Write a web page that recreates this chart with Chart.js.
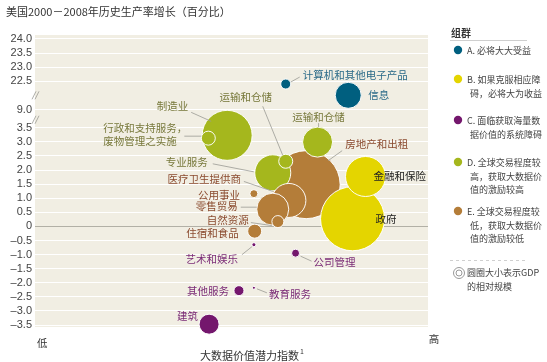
<!DOCTYPE html>
<html>
<head>
<meta charset="utf-8">
<script src="https://cdn.jsdelivr.net/npm/chart.js@4.4.1/dist/chart.umd.min.js"></script>
<style>
html, body { margin: 0; padding: 0; background: #fff; }
#wrap { width: 547px; height: 362px; position: relative; }
</style>
</head>
<body>
<div id="wrap"><canvas id="my-Chart" width="547" height="362"></canvas></div>
<script>
// Dados
const sectors = ['计算机和其他电子产品', '信息', '制造业', '行政和支持服务，|废物管理之实施', '运输和仓储', '运输和仓储',
    '房地产和出租', '专业服务', '医疗卫生提供商', '零售贸易', '自然资源', '公用事业', '住宿和食品',
    '艺术和娱乐', '公司管理', '其他服务', '教育服务', '建筑', '金融和保险', '政府'];
const groups = ['A', 'A', 'D', 'D', 'D', 'D', 'E', 'D', 'E', 'E', 'E', 'E', 'E', 'C', 'C', 'C', 'C', 'C', 'B', 'B'];
const bigDataIndex = [63.8, 79.7, 48.9, 44.1, 63.8, 71.9, 69.0, 60.5, 64.6, 60.5, 61.8, 55.7, 55.9, 55.7, 66.3, 51.9, 55.7, 44.3, 84.1, 80.8];
const productivity = [22.4, 22.0, 3.23, 3.13, 2.31, 2.99, 1.48, 1.9, 0.92, 0.61, 0.17, 1.16, -0.17, -0.65, -0.95, -2.28, -2.18, -3.47, 1.77, 0.27];
const gdpSize = [5, 13, 25, 7, 7, 15, 34, 18, 17, 16, 6, 4, 7, 2, 4, 5, 1.5, 10, 20, 32];
const yTickValues = [-3.5, -3.0, -2.5, -2.0, -1.5, -1.0, -0.5, 0, 0.5, 1.0, 1.5, 2.0, 2.5, 3.0, 3.5, 9.0, 22.5, 23.0, 23.5, 24.0];

const groupNames = {
    A: ['A. 必将大大受益'],
    B: ['B. 如果克服相应障', '碍，必将大为收益'],
    C: ['C. 面临获取海量数', '据价值的系统障碍'],
    D: ['D. 全球交易程度较', '高，获取大数据价', '值的激励较高'],
    E: ['E. 全球交易程度较', '低，获取大数据价', '值的激励较低']
};
const bubbleColors = { A: '#005f7f', B: '#e4d500', C: '#74176d', D: '#a5b71d', E: '#b47d39' };
const textColors = { A: '#2a6a88', B: '#222222', C: '#7a2a76', D: '#77783a', E: '#8a4a2e' };

// Eixo quebrado: valor real -> unidade do eixo
const breakAnchors = [[-3.5, -3.5], [3.5, 3.5], [9.0, 4.146], [22.0, 4.65], [24.0, 6.65]];
function toAxis(v) {
    for (let i = 1; i < breakAnchors.length; i++) {
        const [v0, d0] = breakAnchors[i - 1];
        const [v1, d1] = breakAnchors[i];
        if (v <= v1 || i === breakAnchors.length - 1) {
            return d0 + (v - v0) * (d1 - d0) / (v1 - v0);
        }
    }
}

function fmt(v) {
    if (v === 0) return '0';
    return (v < 0 ? '–' : '') + Math.abs(v).toFixed(1);
}

// Posição dos rótulos em relação ao centro da bolha (dx, dy, alinhamento, linha guia)
const labelLayout = [
    { dx: 17, dy: -9, align: 'left', line: [5, -2, 14, -7] },
    { dx: 20, dy: 0, align: 'left' },
    { dx: -39, dy: -29, align: 'right', line: [-36, -23, -16, -14] },
    { dx: -105, dy: -10, align: 'left', line: [-24, -2, -7, -2] },
    { dx: -40, dy: -64, align: 'center', line: [-23, -55, -3, -6] },
    { dx: 1, dy: -25, align: 'center', line: [1, -19, 1, -15] },
    { dx: 39, dy: -41, align: 'left', line: [36, -34, 22, -24] },
    { dx: -65, dy: -11, align: 'right', line: [-60, -9, -19, -1] },
    { dx: -48, dy: -21, align: 'right', line: [-45, -19, -16, -9] },
    { dx: -35, dy: -3, align: 'right', line: [-32, -2, -16, -2] },
    { dx: -29, dy: -2, align: 'right', line: [-27, 1, -6, 4] },
    { dx: -14, dy: 1, align: 'right' },
    { dx: -16, dy: 2, align: 'right' },
    { dx: -16, dy: 14, align: 'right', line: [-12, 10, -2, 2] },
    { dx: 18, dy: 9, align: 'left', line: [5, 3, 16, 8] },
    { dx: -10, dy: 0, align: 'right' },
    { dx: 15, dy: 6, align: 'left', line: [3, 1, 13, 5] },
    { dx: -11, dy: -8, align: 'right' },
    { dx: 8, dy: 0, align: 'left' },
    { dx: 23, dy: 0, align: 'left' }
];

const CJK = '"Noto Sans CJK SC", sans-serif';

// Ordem de desenho: bolhas maiores primeiro
const order = sectors.map((s, i) => i).sort((a, b) => gdpSize[b] - gdpSize[a]);

const bgPlugin = {
    id: 'bg',
    beforeDraw(chart) {
        const { ctx, chartArea: a } = chart;
        ctx.save();
        ctx.fillStyle = '#f1eee3';
        ctx.fillRect(a.left, a.top, a.right - a.left, a.bottom - a.top);
        ctx.restore();
    }
};

const labelPlugin = {
    id: 'labels',
    afterDatasetsDraw(chart) {
        const { ctx } = chart;
        const meta = chart.getDatasetMeta(0);
        ctx.save();
        ctx.textBaseline = 'middle';
        ctx.font = '10.5px ' + CJK;
        order.forEach((idx, k) => {
            const el = meta.data[k];
            const lay = labelLayout[idx];
            const cx = el.x, cy = el.y;
            if (lay.line) {
                ctx.strokeStyle = '#9a9a94';
                ctx.lineWidth = 0.8;
                ctx.beginPath();
                ctx.moveTo(cx + lay.line[0], cy + lay.line[1]);
                ctx.lineTo(cx + lay.line[2], cy + lay.line[3]);
                ctx.stroke();
            }
            ctx.fillStyle = textColors[groups[idx]];
            ctx.textAlign = lay.align;
            const lines = sectors[idx].split('|');
            lines.forEach((t, j) => ctx.fillText(t, cx + lay.dx, cy + lay.dy + j * 13));
        });
        ctx.restore();
    },
    afterDraw(chart) {
        const { ctx, chartArea: a } = chart;
        ctx.save();
        // título
        ctx.fillStyle = '#333';
        ctx.textBaseline = 'middle';
        ctx.textAlign = 'left';
        ctx.font = '11px ' + CJK;
        ctx.fillText('美国2000－2008年历史生产率增长（百分比）', 6, 12);

        // marcas de quebra do eixo
        const yScale = chart.scales.y;
        [toAxis(22.0), (toAxis(3.5) + toAxis(9.0)) / 2 - 0.04].forEach(d => {
            const y = yScale.getPixelForValue(d);
            ctx.strokeStyle = '#9a9a94';
            ctx.lineWidth = 0.8;
            [0, 3].forEach(off => {
                ctx.beginPath();
                ctx.moveTo(a.left - 3 + off, y + 4);
                ctx.lineTo(a.left + 1 + off, y - 4);
                ctx.stroke();
            });
        });

        // eixo x
        ctx.fillStyle = '#333';
        ctx.font = '10.5px ' + CJK;
        ctx.textAlign = 'left';
        ctx.fillText('低', a.left + 2, 343);
        ctx.textAlign = 'center';
        ctx.fillText('高', a.right + 6, 339);
        ctx.textAlign = 'left';
        ctx.font = '11px ' + CJK;
        const ttl = '大数据价值潜力指数';
        ctx.fillText(ttl, 200, 356);
        const w = ctx.measureText(ttl).width;
        ctx.font = '7px ' + CJK;
        ctx.fillText('1', 200 + w + 1, 351);

        // legenda
        const lx = 451;
        ctx.font = 'bold 10px ' + CJK;
        ctx.fillStyle = '#333';
        ctx.fillText('组群', lx, 33);
        ctx.strokeStyle = '#cfcfcf';
        ctx.lineWidth = 1;
        ctx.beginPath();
        ctx.moveTo(lx - 1, 40.5);
        ctx.lineTo(527, 40.5);
        ctx.stroke();

        const tops = { A: 51, B: 80, C: 121, D: 163, E: 212 };
        ctx.font = '9px ' + CJK;
        Object.keys(groupNames).forEach(g => {
            const y0 = tops[g];
            ctx.fillStyle = bubbleColors[g];
            ctx.beginPath();
            ctx.arc(lx + 7, y0 - 1, 4.2, 0, Math.PI * 2);
            ctx.fill();
            ctx.fillStyle = '#444';
            groupNames[g].forEach((t, j) => ctx.fillText(t, j === 0 ? lx + 16 : lx + 19, y0 + j * 13.5));
        });

        ctx.setLineDash([3, 3]);
        ctx.strokeStyle = '#cfcfcf';
        ctx.beginPath();
        ctx.moveTo(lx - 1, 260.5);
        ctx.lineTo(527, 260.5);
        ctx.stroke();
        ctx.setLineDash([]);

        ctx.strokeStyle = '#999';
        ctx.lineWidth = 1;
        ctx.beginPath();
        ctx.arc(lx + 8, 273, 5.5, 0, Math.PI * 2);
        ctx.stroke();
        ctx.beginPath();
        ctx.arc(lx + 8, 273, 3, 0, Math.PI * 2);
        ctx.stroke();
        ctx.fillStyle = '#444';
        ctx.fillText('圆圈大小表示GDP', lx + 16, 273);
        ctx.fillText('的相对规模', lx + 16, 287);
        ctx.restore();
    }
};

let myChart = null;

function plotChart() {
    const ctx = document.querySelector('#my-Chart');
    if (myChart !== null) {
        myChart.destroy();
    }

    const points = order.map(i => ({ x: bigDataIndex[i], y: toAxis(productivity[i]), r: gdpSize[i] }));
    const colors = order.map(i => bubbleColors[groups[i]]);

    myChart = new Chart(ctx, {
        type: 'bubble',
        data: {
            datasets: [{
                data: points,
                backgroundColor: colors,
                borderColor: 'rgba(255,255,255,0.95)',
                borderWidth: 1,
                clip: false
            }]
        },
        options: {
            responsive: false,
            animation: false,
            events: [],
            layout: { padding: { top: 27, right: 119, bottom: 32, left: 0 } },
            plugins: { legend: { display: false }, tooltip: { enabled: false } },
            scales: {
                x: { display: false, min: 0, max: 100 },
                y: {
                    min: -3.57,
                    max: 6.79,
                    afterFit: (scale) => { scale.width = 33; },
                    afterBuildTicks: (scale) => {
                        scale.ticks = yTickValues.map(v => ({ value: toAxis(v) }));
                    },
                    border: { display: false },
                    grid: {
                        drawTicks: false,
                        lineWidth: 1,
                        color: (c) => (yTickValues[c.index] === 0 ? '#b2b0a6' : '#ffffff')
                    },
                    ticks: {
                        autoSkip: false,
                        padding: 3,
                        color: '#444',
                        font: { family: '"Liberation Sans", Arial, sans-serif', size: 11 },
                        callback: (value, index) => fmt(yTickValues[index])
                    }
                }
            }
        },
        plugins: [bgPlugin, labelPlugin]
    });
}

document.addEventListener('DOMContentLoaded', () => {
    plotChart();
});
</script>
</body>
</html>
